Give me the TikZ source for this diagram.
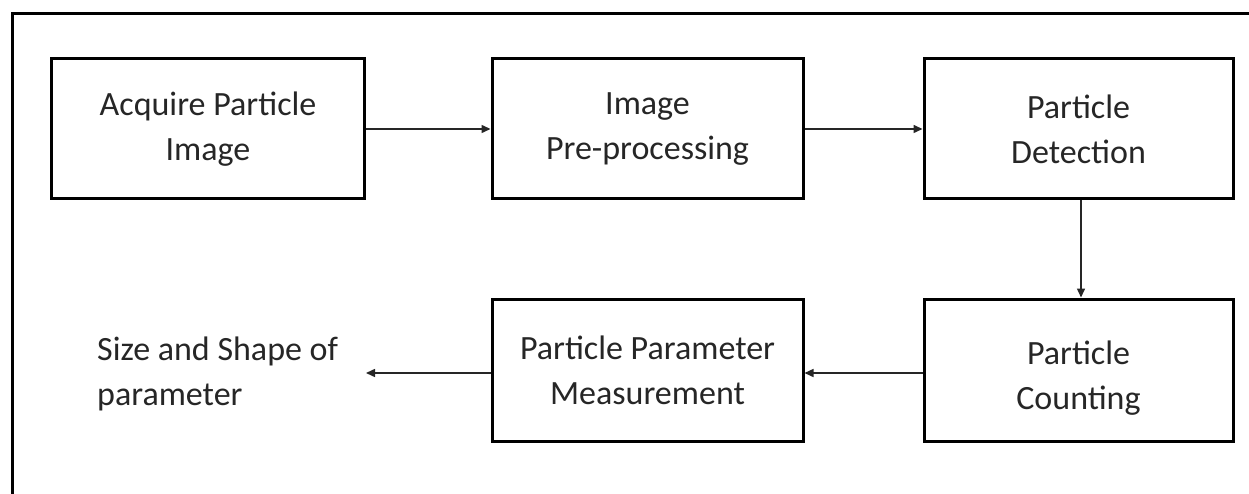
\documentclass[tikz,border=0pt]{standalone}
\usepackage{fontspec}
\setmainfont{Carlito}
\usetikzlibrary{arrows.meta}
\begin{document}
\begin{tikzpicture}[x=1pt,y=-1pt,
  stepbox/.style={draw=black,line width=3pt,minimum width=311pt,minimum height=140pt,inner sep=0pt,align=center,font=\fontsize{34}{45}\selectfont,text=black!85},
  conn/.style={draw=black!85,line width=1.5pt,-{Triangle[length=9pt,width=8pt]}},
  lbl/.style={align=left,anchor=west,inner sep=0pt,font=\fontsize{34}{45}\selectfont,text=black!85}]
\useasboundingbox (0,0) rectangle (1249,494);
\draw[line width=3pt] (12.5,494) -- (12.5,13.5) -- (1249,13.5);
\node[stepbox,minimum width=313pt] (b1) at (208,129) {Acquire Particle\\Image};
\node[stepbox] (b2) at (647.5,129) {Image\\Pre-processing};
\node[stepbox,minimum width=309pt] (b3) at (1078.5,129) {Particle\\Detection};
\node[stepbox,minimum width=309pt,minimum height=142pt] (b4) at (1078.5,370) {\raisebox{-8pt}[\height][\depth]{\begin{tabular}{@{}c@{}}Particle\\Counting\end{tabular}}};
\node[stepbox,minimum height=142pt] (b5) at (647.5,370) {Particle Parameter\\Measurement};
\node[lbl] (out) at (97,374) {Size and Shape of\\parameter};
\coordinate (tip) at (366,373);
\draw[conn] (b1.east) -- (b2.west);
\draw[conn] (b2.east) -- (b3.west);
\draw[conn] ([xshift=2.5pt]b3.south) -- ([xshift=2.5pt]b4.north);
\draw[conn] (b4.west |- tip) -- (b5.east |- tip);
\draw[conn] (b5.west |- tip) -- (tip);
\end{tikzpicture}
\end{document}
